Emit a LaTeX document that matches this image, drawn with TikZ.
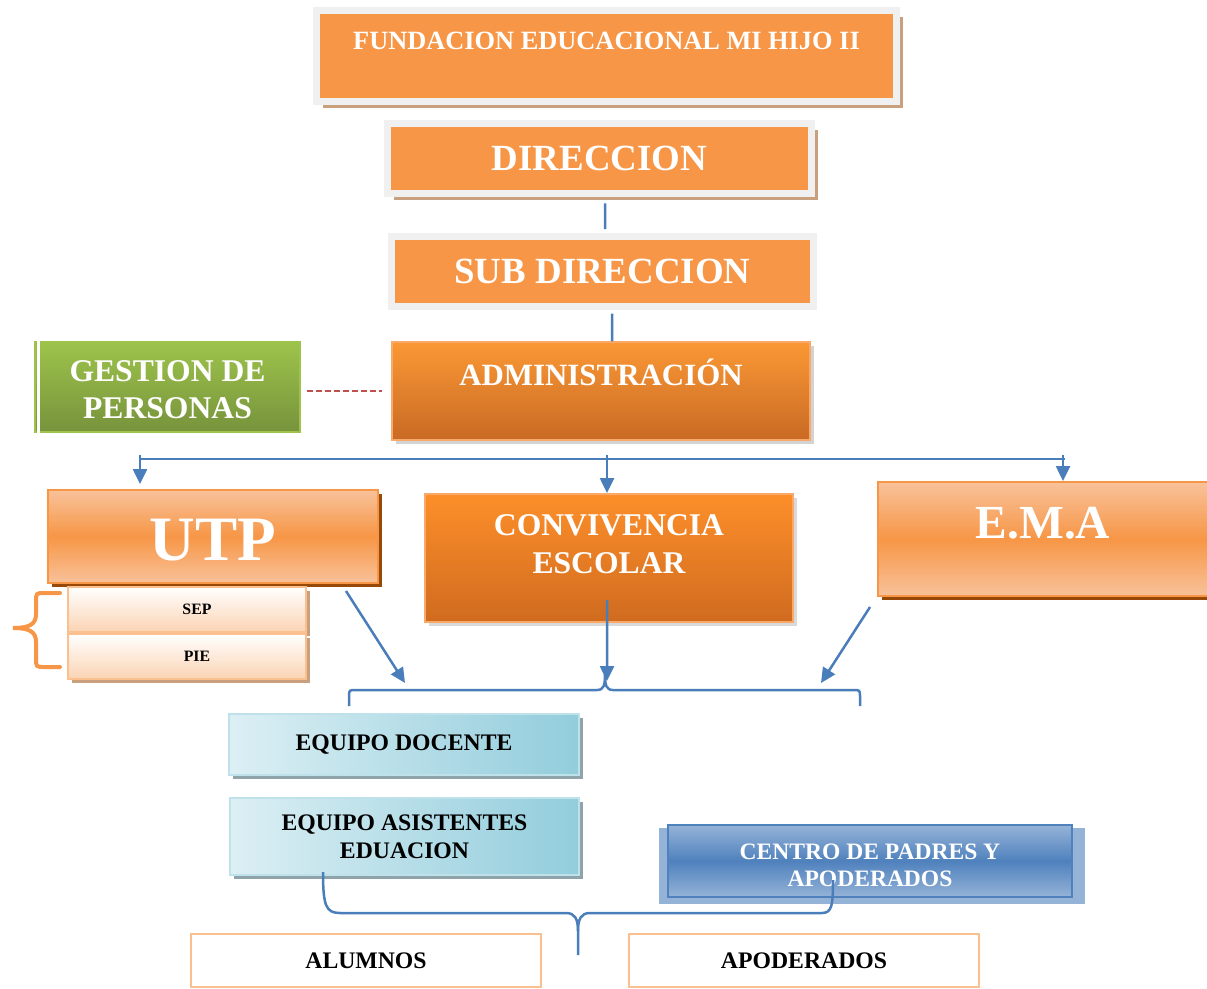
\documentclass[tikz,border=0pt]{standalone}
\usepackage{fontspec}
\setmainfont{Liberation Serif}
\usetikzlibrary{arrows.meta,shadows,positioning}

\definecolor{naranja}{HTML}{F79646}
\definecolor{naranjaclaro}{HTML}{F8C29A}
\definecolor{naranjaborde}{HTML}{F9A96A}
\definecolor{gris}{HTML}{F0F0F0}
\definecolor{cafe}{HTML}{C9A07E}
\definecolor{cafeoscuro}{HTML}{984807}
\definecolor{azul}{HTML}{4A7EBB}
\definecolor{verde}{HTML}{9DC34B}
\definecolor{verdeoscuro}{HTML}{77933C}
\definecolor{admsup}{HTML}{FA9835}
\definecolor{adminf}{HTML}{C96A24}
\definecolor{convsup}{HTML}{FD8F2A}
\definecolor{convinf}{HTML}{D06B1F}
\definecolor{durazno}{HTML}{FBD3B3}
\definecolor{celeste}{HTML}{DCEFF4}
\definecolor{celesteoscuro}{HTML}{92CDDC}
\definecolor{grisazul}{HTML}{8FA3AB}
\definecolor{azulcp}{HTML}{4F81BD}
\definecolor{azulcpclaro}{HTML}{95B3D7}
\definecolor{bordedurazno}{HTML}{FAC090}
\definecolor{rojo}{HTML}{C0504D}

\tikzset{
	enlace/.style={draw=azul, line width=0.05cm},
	flecha/.style={enlace, -{Triangle[width=0.28cm,length=0.3cm]}},
	marcobox/.style={draw=gris, line width=0.14cm, fill=naranja, text=white},
	sombracafe/.style={drop shadow={shadow xshift=0.13cm, shadow yshift=-0.13cm, fill=cafe, opacity=1}},
	cajautp/.style={draw=naranja, line width=0.04cm, top color=naranjaclaro, bottom color=naranjaclaro, middle color=naranja, text=white,
		drop shadow={shadow xshift=0.08cm, shadow yshift=-0.08cm, fill=cafeoscuro, opacity=1}},
	cajaadm/.style={draw=naranjaborde, line width=0.03cm, top color=admsup, bottom color=adminf, text=white, drop shadow={opacity=0.35}},
	cajaconv/.style={draw=naranjaborde, line width=0.04cm, top color=convsup, bottom color=convinf, text=white, drop shadow={opacity=0.3}},
	cajasub/.style={draw=bordedurazno, line width=0.03cm, top color=white, bottom color=durazno, text=black,
		minimum width=4.76cm, minimum height=0.9cm,
		drop shadow={shadow xshift=0.08cm, shadow yshift=-0.08cm, fill=cafe, opacity=1}},
	textosub/.style={text=black, font=\bfseries\fontsize{9}{11}\selectfont, xshift=0.2cm},
	cajaequipo/.style={draw=celeste!60!celesteoscuro, line width=0.04cm, left color=celeste, right color=celesteoscuro, text=black,
		font=\bfseries\fontsize{13.5}{16}\selectfont, align=center, minimum width=7cm,
		drop shadow={shadow xshift=0.08cm, shadow yshift=-0.08cm, fill=grisazul, opacity=1}},
	cajacp/.style={draw=azulcp, line width=0.05cm, top color=azulcpclaro, bottom color=azulcpclaro, middle color=azulcp, text=white,
		drop shadow={shadow xshift=0.04cm, shadow yshift=-0.09cm, shadow scale=1.055, fill=azulcpclaro, opacity=1}},
	cajabase/.style={draw=bordedurazno, line width=0.05cm, fill=white, text=black,
		font=\bfseries\fontsize{13.5}{16}\selectfont, minimum width=7cm, minimum height=1.06cm}
}

\begin{document}
\begin{tikzpicture}[x=0.02cm,y=-0.02cm]
	\useasboundingbox (0,0) rectangle (1207,988);

	% direccion
	\node[marcobox, sombracafe, minimum width=11.6cm, minimum height=1.82cm,
		label={[text=white, font=\bfseries\fontsize{15}{18}\selectfont, yshift=0.3cm]center:FUNDACION EDUCACIONAL MI HIJO II}] (fund) at (606.5,56) {};
	\node[marcobox, sombracafe, minimum width=8.48cm, minimum height=1.4cm, font=\bfseries\fontsize{21}{24}\selectfont] (dir) at (599.5,158.5) {DIRECCION};
	\node[marcobox, minimum width=8.46cm, minimum height=1.4cm, font=\bfseries\fontsize{21}{24}\selectfont] (sub) at (602.5,271) {SUB DIRECCION};
	\node[cajaadm, minimum width=8.36cm, minimum height=1.96cm,
		label={[text=white, font=\bfseries\fontsize{17.6}{20}\selectfont, yshift=0.38cm]center:ADMINISTRACIÓN}] (admin) at (601,391) {};
	\node[top color=verde, bottom color=verdeoscuro, draw=verde, line width=0.03cm, minimum width=5.3cm, minimum height=1.8cm,
		label={[text=white, align=center, font=\bfseries\fontsize{18}{21}\selectfont, yshift=-0.06cm]center:GESTION DE\\PERSONAS}] (gp) at (167.5,387) {};
	\draw[white, line width=0.05cm] ([xshift=0.08cm]gp.north west) -- ([xshift=0.08cm]gp.south west);

	\draw[enlace, shorten <=0.13cm, shorten >=0.07cm] ([xshift=0.11cm]dir.south) -- ([xshift=0.05cm]sub.north);
	\draw[enlace, shorten <=0.08cm] ([xshift=0.19cm]sub.south) -- ([xshift=0.22cm]admin.north);
	\draw[rojo, line width=0.03cm, dash pattern=on 0.12cm off 0.06cm] ([xshift=0.12cm]gp.east |- admin.west) -- ([xshift=-0.18cm]admin.west);

	% areas
	\node[cajautp, minimum width=6.6cm, minimum height=1.86cm,
		label={[text=white, font=\bfseries\fontsize{36}{40}\selectfont, yshift=-0.08cm]center:UTP}] (utp) at (213,536.5) {};
	\node[cajaconv, minimum width=7.36cm, minimum height=2.56cm,
		label={[text=white, align=center, font=\bfseries\fontsize{18}{21.5}\selectfont, yshift=0.28cm]center:CONVIVENCIA\\ESCOLAR}] (conv) at (609,558) {};
	\node[cajautp, minimum width=6.6cm, minimum height=2.28cm,
		label={[text=white, font=\bfseries\fontsize{27}{30}\selectfont, yshift=0.32cm]center:E.M.A}] (ema) at (1043,539) {};
	\node[cajasub, label={[textosub]center:SEP}] (sep) at (187,609.5) {};
	\node[cajasub, label={[textosub]center:PIE}] (pie) at (187,656.5) {};

	\coordinate (barL) at (140,459);
	\coordinate (barM) at (607,459);
	\coordinate (barR) at (1065,459);
	\draw[enlace] (barL) -- (barR);
	\draw[flecha, shorten >=0.1cm] ([yshift=0.08cm]barL) -- (barL |- utp.north);
	\draw[flecha] ([yshift=0.08cm]barM) -- (barM |- conv.north);
	\draw[flecha] ([xshift=-0.04cm,yshift=0.08cm]barR) -- ([xshift=-0.04cm]barR |- ema.north);

	% llave SEP PIE
	\draw[naranja, line width=0.08cm, line cap=round] (60,593) -- (45,593) .. controls (36,593) .. (36,602) -- (36,614)
		.. controls (36,624) and (30,628) .. (13,628) .. controls (30,628) and (36,632) .. (36,642) -- (36,658)
		.. controls (36,667) .. (45,667) -- (60,667);

	% llave equipos
	\coordinate (llegaA) at (405,683);
	\coordinate (llegaB) at (607,681);
	\coordinate (llegaC) at (821,683);
	\draw[flecha] ([xshift=-0.66cm,yshift=-0.14cm]utp.south east) -- (llegaA);
	\draw[flecha] ([xshift=-0.04cm,yshift=-0.84cm]conv.center) -- (llegaB);
	\draw[flecha] ([xshift=-0.14cm,yshift=-0.2cm]ema.south west) -- (llegaC);
	\draw[enlace] (349,706) -- (349,697) .. controls (349,690) .. (356,690) -- (597,690) .. controls (604,690) and (605,685) .. (605,674)
		.. controls (605,685) and (606,690) .. (613,690) -- (853,690) .. controls (860,690) .. (860,697) -- (860,706);

	\node[cajaequipo, minimum height=1.22cm] (doc) at (404,744.5) {EQUIPO DOCENTE};
	\node[cajaequipo, minimum height=1.54cm] (asis) at (404.5,836.5) {EQUIPO ASISTENTES\\EDUACION};
	\node[cajacp, minimum width=8.08cm, minimum height=1.44cm,
		label={[text=white, align=center, font=\bfseries\fontsize{13.4}{15.3}\selectfont, yshift=-0.08cm]center:CENTRO DE PADRES Y\\APODERADOS}] (cp) at (870,861) {};

	% llave inferior
	\draw[enlace] (323,872) .. controls (323,906) and (326,913) .. (340,913) -- (566,913) .. controls (575,913) and (578,919) .. (578,931) -- (578,955);
	\draw[enlace] (578,931) .. controls (578,919) and (581,913) .. (590,913) -- (822,913) .. controls (832,913) and (833,905) .. (833,880);

	\node[cajabase] (alu) at (366,960.5) {ALUMNOS};
	\node[cajabase] (apo) at (804,960.5) {APODERADOS};
\end{tikzpicture}
\end{document}
